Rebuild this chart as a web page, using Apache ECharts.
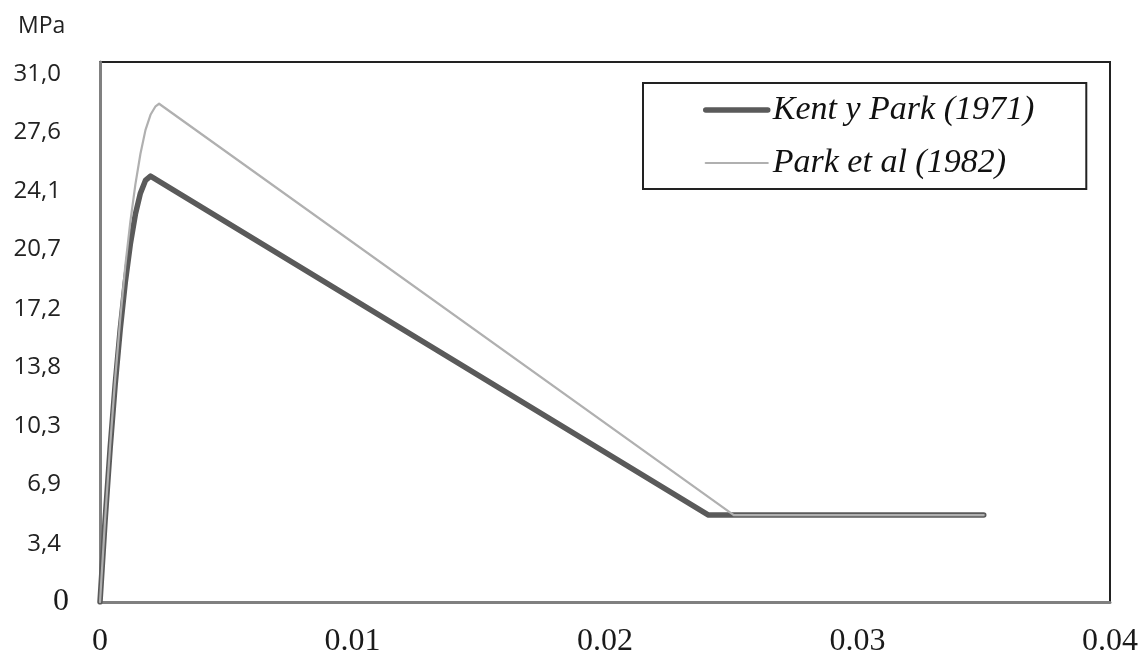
<!DOCTYPE html>
<html>
<head>
<meta charset="utf-8">
<script src="https://cdn.jsdelivr.net/npm/echarts@6/dist/echarts.min.js"></script>
<style>html,body{margin:0;padding:0;background:#fff}#c{width:1145px;height:671px}</style>
</head>
<body>
<div id="c"></div>
<script>
// ---- data (strain, stress in MPa) ----
const kentStrain  = [0, 0.0002, 0.0004, 0.0006, 0.0008, 0.001, 0.0012, 0.0014, 0.0016, 0.0018, 0.002, 0.0241, 0.035];
const kentStress  = [0, 4.75, 9.0, 12.75, 16.0, 18.75, 21.0, 22.75, 24.0, 24.75, 25.0, 5.1, 5.1];
const parkStrain  = [0, 0.0002, 0.0004, 0.0006, 0.0008, 0.001, 0.0012, 0.0014, 0.0016, 0.0018, 0.002, 0.0022, 0.00234, 0.0251, 0.035];
const parkStress  = [0, 4.8, 9.15, 13.1, 16.6, 19.7, 22.3, 24.5, 26.3, 27.7, 28.6, 29.1, 29.25, 5.1, 5.1];
const seriesNames = ['Kent y Park (1971)', 'Park et al (1982)'];
const yTickValues = [0, 3.4, 6.9, 10.3, 13.8, 17.2, 20.7, 24.1, 27.6, 31.0];
const xTickLabels = ['0', '0.01', '0.02', '0.03', '0.04'];
const yUnit = 'MPa';

const zip = (a, b) => a.map((v, i) => [v, b[i]]);
const kentColor = '#5a5a5a', parkColor = '#b0b0b0';
const kentWidth = 5.5, parkWidth = 2.2;

const chart = echarts.init(document.getElementById('c'), null, {renderer: 'canvas'});
chart.setOption({
  animation: false,
  backgroundColor: '#fff',
  title: {
    text: yUnit, left: 13, top: 10,
    textStyle: {fontFamily: 'Open Sans', fontSize: 23, fontWeight: 'normal', color: '#222'}
  },
  grid: {
    left: 100, right: 35, top: 62, bottom: 69,
    show: true, borderColor: '#222', borderWidth: 2, backgroundColor: 'transparent'
  },
  legend: {
    orient: 'vertical',
    left: 643, top: 83,
    padding: [9, 52, 8, 60],
    itemGap: 17,
    itemWidth: 62, itemHeight: 14,
    borderColor: '#222', borderWidth: 2,
    data: [
      {name: seriesNames[0], itemStyle: {opacity: 0}, lineStyle: {color: kentColor, width: kentWidth, cap: 'round'}},
      {name: seriesNames[1], itemStyle: {opacity: 0}, lineStyle: {color: parkColor, width: parkWidth}}
    ],
    textStyle: {fontFamily: 'Liberation Serif', fontStyle: 'italic', fontSize: 34, color: '#111', lineHeight: 36}
  },
  xAxis: {
    type: 'value', min: 0, max: 0.04, interval: 0.01,
    axisLine: {show: true, lineStyle: {color: '#808080', width: 3}},
    axisTick: {show: false},
    splitLine: {show: false},
    axisLabel: {
      margin: 24,
      fontFamily: 'Liberation Serif', fontSize: 32, color: '#1a1a1a',
      formatter: (v) => xTickLabels[Math.round(v / 0.01)]
    }
  },
  yAxis: {
    type: 'value', min: 0, max: 31.7,
    axisLine: {show: true, lineStyle: {color: '#808080', width: 3}},
    axisTick: {show: false},
    splitLine: {show: false},
    axisLabel: {
      customValues: yTickValues,
      margin: 39,
      fontFamily: 'Open Sans', fontSize: 24, color: '#222',
      formatter: (v) => v === 0 ? '{z|0}' : v.toFixed(1).replace('.', ','),
      rich: {z: {fontFamily: 'Liberation Serif', fontSize: 32, color: '#1a1a1a', padding: [0, -8, 0, 0]}}
    }
  },
  series: [
    {
      name: seriesNames[0], type: 'line', data: zip(kentStrain, kentStress),
      symbol: 'none', smooth: false, z: 2,
      lineStyle: {color: kentColor, width: kentWidth, cap: 'round', join: 'round'},
      itemStyle: {color: kentColor}
    },
    {
      name: seriesNames[1], type: 'line', data: zip(parkStrain, parkStress),
      symbol: 'none', smooth: false, z: 3,
      lineStyle: {color: parkColor, width: parkWidth, cap: 'round', join: 'round'},
      itemStyle: {color: parkColor}
    }
  ]
});
</script>
</body>
</html>
